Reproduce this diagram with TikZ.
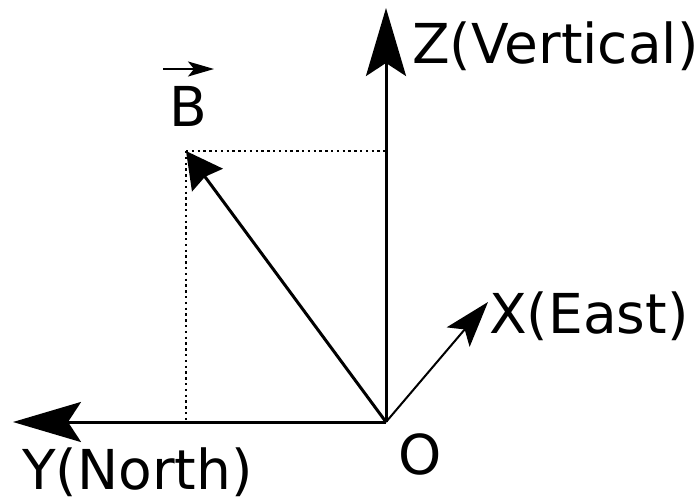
\documentclass[tikz,border=0pt]{standalone}
\usepackage{fontspec}
\setmainfont{DejaVu Sans}
\usetikzlibrary{arrows.meta}
\tikzset{
  axis/.style={line width=3pt, -{Stealth[length=68pt,width=40pt,inset=13pt]}},
  thinaxis/.style={line width=2pt, -{Stealth[length=46pt,width=30pt,inset=10pt]}},
  vecB/.style={line width=3pt, -{Stealth[length=36pt,width=38pt,inset=4pt]}},
  guide/.style={line width=2.3pt, dash pattern=on 2.4pt off 3.4pt},
  lbl/.style={inner sep=0pt, anchor=base west, font=\fontsize{55}{62}\selectfont},
}
\begin{document}
\begin{tikzpicture}[x=1pt,y=-1pt]
\useasboundingbox (0,0) rectangle (698,501);
\coordinate (o) at (386,422);
\coordinate (z) at (386,8);
\coordinate (y) at (13,422);
\coordinate (x) at (488,302);
\coordinate (b) at (186,151);
\coordinate (bz) at (386,151);
\coordinate (by) at (186,422);
\draw[guide] (b) -- (bz);
\draw[guide] (b) -- (by);
\draw[axis] (o) -- (z);
\draw[axis] (o) -- (y);
\draw[thinaxis] (o) -- (x);
\draw[vecB] (o) -- (b);
\node[lbl] (zl) at (412,63) {Z(Vertical)};
\node[lbl] (yl) at (22,489) {Y(North)};
\node[lbl] (xl) at (489,333) {X(East)};
\node[lbl] (ol) at (398,474) {O};
\node[lbl] (bl) at (169,126) {B};
\coordinate (ba) at (163,69);
\coordinate (bb) at (214,69);
\draw[line width=2.2pt, -{Stealth[length=26pt,width=15pt,inset=6pt]}] (ba) -- (bb);
\end{tikzpicture}
\end{document}
